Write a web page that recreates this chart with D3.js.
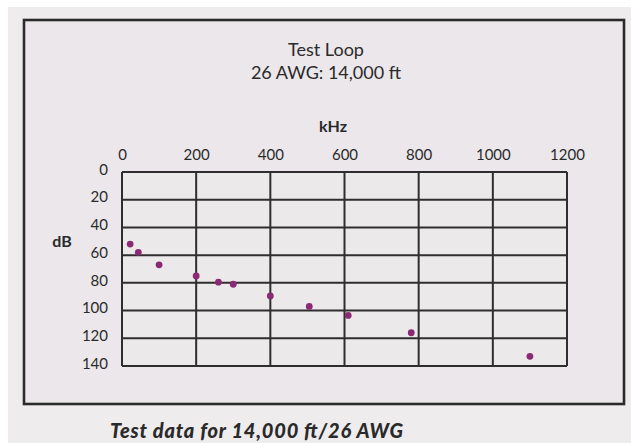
<!DOCTYPE html>
<html>
<head>
<meta charset="utf-8">
<script src="https://cdn.jsdelivr.net/npm/d3@7/dist/d3.min.js"></script>
<style>
  html, body { margin: 0; padding: 0; background: #ffffff; }
  svg { display: block; }
  text { font-family: Lato, "Open Sans", sans-serif; fill: #2a2a2a; }
</style>
</head>
<body>
<svg id="chart" width="631" height="443"></svg>
<script>
// Measured loop attenuation, 26 AWG at 14,000 ft
const freqKHz = [22, 44, 100, 200, 260, 300, 400, 505, 610, 780, 1100];
const lossDB  = [52, 58, 67, 75, 79.5, 81, 89.5, 97, 103.5, 116, 133];

const xTicks = [0, 200, 400, 600, 800, 1000, 1200];
const yTicks = [0, 20, 40, 60, 80, 100, 120, 140];

const titleLines = ["Test Loop", "26 AWG: 14,000 ft"];
const xLabel = "kHz";
const yLabel = "dB";
const caption = "Test data for 14,000 ft/26 AWG";

const svg = d3.select("#chart");

// page background and panel
svg.append("rect").attr("x", 8).attr("y", 7).attr("width", 623).attr("height", 436)
  .attr("fill", "#efecee");
svg.append("rect").attr("x", 24).attr("y", 20).attr("width", 600).attr("height", 384)
  .attr("fill", "#ebe7ea").attr("stroke", "#2b2b2b").attr("stroke-width", 2.6);

const x = d3.scaleLinear().domain([0, 1200]).range([122, 567]);
const y = d3.scaleLinear().domain([0, 140]).range([172, 366]);

// plot area
svg.append("rect")
  .attr("x", x(0)).attr("y", y(0))
  .attr("width", x(1200) - x(0)).attr("height", y(140) - y(0))
  .attr("fill", "#ece9eb");

const grid = svg.append("g").attr("stroke", "#2e2e2e").attr("stroke-width", 2);
grid.selectAll("line.v").data(xTicks).join("line").attr("class", "v")
  .attr("x1", d => x(d)).attr("x2", d => x(d))
  .attr("y1", y(0)).attr("y2", y(140));
grid.selectAll("line.h").data(yTicks).join("line").attr("class", "h")
  .attr("x1", x(0)).attr("x2", x(1200))
  .attr("y1", d => y(d)).attr("y2", d => y(d));

// axes: labels only, the grid carries the lines
const xAxis = svg.append("g").attr("transform", `translate(0,${y(0)})`)
  .call(d3.axisTop(x).tickValues(xTicks).tickSize(0).tickPadding(12).tickFormat(d3.format("d")));
const yAxis = svg.append("g").attr("transform", `translate(${x(0)},0)`)
  .call(d3.axisLeft(y).tickValues(yTicks).tickSize(0).tickPadding(14).tickFormat(d3.format("d")));
[xAxis, yAxis].forEach(a => {
  a.select(".domain").remove();
  a.selectAll("text").attr("font-family", "Lato, sans-serif").attr("font-size", 15)
    .attr("fill", "#2a2a2a");
});
yAxis.selectAll("text").attr("dy", "0.15em");

// titles
svg.append("text").attr("x", 326).attr("y", 56).attr("text-anchor", "middle")
  .attr("font-size", 18).text(titleLines[0]);
svg.append("text").attr("x", 326).attr("y", 79).attr("text-anchor", "middle")
  .attr("font-size", 18).text(titleLines[1]);
svg.append("text").attr("x", 333).attr("y", 132).attr("text-anchor", "middle")
  .attr("font-size", 16).attr("font-weight", "bold").text(xLabel);
svg.append("text").attr("x", 62).attr("y", 247).attr("text-anchor", "middle")
  .attr("font-size", 16).attr("font-weight", "bold").text(yLabel);

// data points
svg.append("g").selectAll("circle").data(freqKHz).join("circle")
  .attr("cx", d => x(d))
  .attr("cy", (d, i) => y(lossDB[i]))
  .attr("r", 3.4)
  .attr("fill", "#8a2a75");

// caption
svg.append("text").attr("x", 110).attr("y", 438)
  .attr("font-size", 20).attr("font-weight", 900).attr("font-style", "italic")
  .attr("fill", "#1c1c1c")
  .attr("textLength", 293).attr("lengthAdjust", "spacing")
  .text(caption);
</script>
</body>
</html>
